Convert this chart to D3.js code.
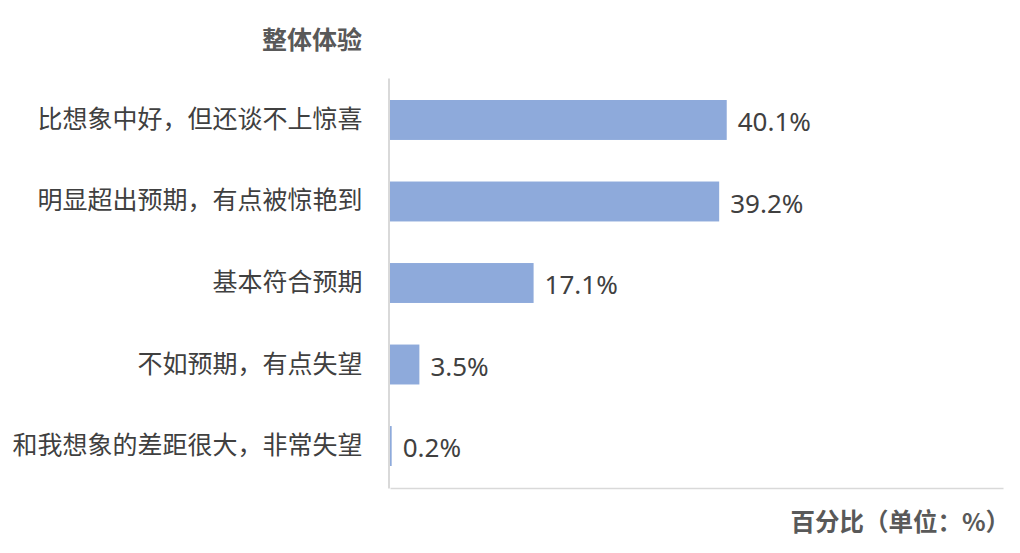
<!DOCTYPE html>
<html>
<head>
<meta charset="utf-8">
<script src="https://cdn.jsdelivr.net/npm/d3@7"></script>
<style>
  body { margin: 0; background: #fff; }
  svg text { font-family: "Noto Sans", "Noto Sans CJK SC", sans-serif; }
</style>
</head>
<body>
<svg id="chart" width="1020" height="553"></svg>
<script>
const categories = [
  "比想象中好，但还谈不上惊喜",
  "明显超出预期，有点被惊艳到",
  "基本符合预期",
  "不如预期，有点失望",
  "和我想象的差距很大，非常失望"
];
const values = [40.1, 39.2, 17.1, 3.5, 0.2];
const yTitle = "整体体验";
const xTitle = "百分比（单位：%）";

const svg = d3.select("#chart");
const barColor = "#8eaadb";
const axisColor = "#d9d9d9";

const x = d3.scaleLinear().domain([0, 73]).range([390, 1003]);
const y = d3.scaleBand().domain(categories).range([78, 488])
  .paddingInner(0.51).paddingOuter(0.27);

// bottom axis line (no ticks)
const xAxis = svg.append("g")
  .attr("transform", "translate(0,488)")
  .call(d3.axisBottom(x).ticks(0).tickSizeOuter(0));
xAxis.select(".domain").attr("stroke", axisColor).attr("stroke-width", 1.5);

// bars
svg.append("g").selectAll("rect")
  .data(values)
  .join("rect")
  .attr("x", x(0))
  .attr("y", (d, i) => y(categories[i]))
  .attr("width", (d) => Math.max(1, x(d) - x(0)))
  .attr("height", y.bandwidth())
  .attr("fill", barColor);

// left axis with category labels
const yAxis = svg.append("g")
  .attr("transform", "translate(388.5,0)")
  .call(d3.axisLeft(y).tickSize(0).tickPadding(26).tickSizeOuter(0));
yAxis.select(".domain").attr("stroke", axisColor).attr("stroke-width", 2);
yAxis.selectAll(".tick text")
  .attr("font-size", 25)
  .attr("fill", "#404040")
  .style("font-family", '"Noto Sans CJK SC", sans-serif');

// value labels
svg.append("g").selectAll("text")
  .data(values)
  .join("text")
  .attr("x", (d) => x(d) + 11)
  .attr("y", (d, i) => y(categories[i]) + y.bandwidth() / 2)
  .attr("dy", "0.43em")
  .attr("font-size", 26)
  .attr("fill", "#404040")
  .text((d) => d.toFixed(1) + "%");

// titles
svg.append("text")
  .attr("x", 362).attr("y", 49)
  .attr("text-anchor", "end")
  .attr("font-size", 25).attr("font-weight", "bold")
  .attr("fill", "#595959")
  .style("font-family", '"Noto Sans CJK SC", sans-serif')
  .text(yTitle);

svg.append("text")
  .attr("x", 1010).attr("y", 531)
  .attr("text-anchor", "end")
  .attr("font-size", 24.5).attr("font-weight", "bold")
  .attr("fill", "#595959")
  .style("font-family", '"Noto Sans CJK SC", sans-serif')
  .text(xTitle);
</script>
</body>
</html>
